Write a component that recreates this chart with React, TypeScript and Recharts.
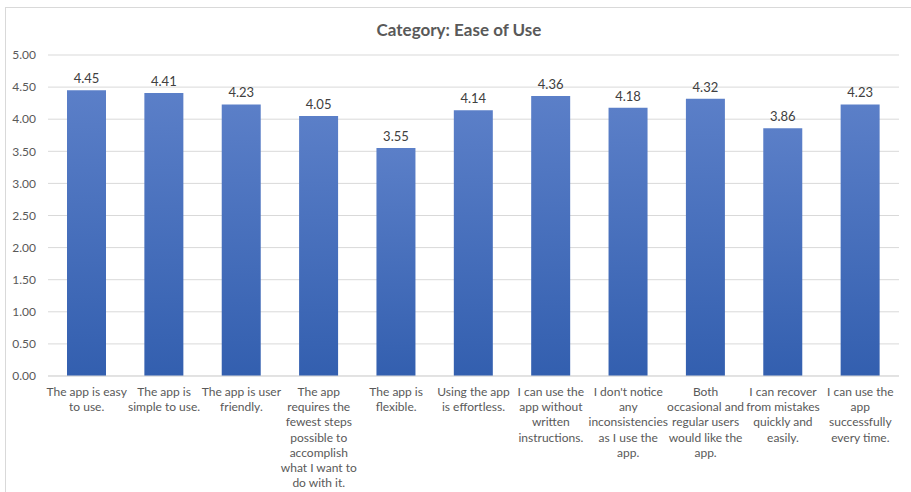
import { BarChart, Bar, XAxis, YAxis, CartesianGrid, LabelList } from 'recharts'

const title = 'Category: Ease of Use'

// each statement, with the line breaks as they show under the axis
const categories = [
    'The app is easy\nto use.',
    'The app is\nsimple to use.',
    'The app is user\nfriendly.',
    'The app\nrequires the\nfewest steps\npossible to\naccomplish\nwhat I want to\ndo with it.',
    'The app is\nflexible.',
    'Using the app\nis effortless.',
    'I can use the\napp without\nwritten\ninstructions.',
    "I don't notice\nany\ninconsistencies\nas I use the\napp.",
    'Both\noccasional and\nregular users\nwould like the\napp.',
    'I can recover\nfrom mistakes\nquickly and\neasily.',
    'I can use the\napp\nsuccessfully\nevery time.'
]

const scores = [4.45, 4.41, 4.23, 4.05, 3.55, 4.14, 4.36, 4.18, 4.32, 3.86, 4.23]

const yTicks = [0, 0.5, 1, 1.5, 2, 2.5, 3, 3.5, 4, 4.5, 5]

const data = categories.map((name, i) => ({ name, score: scores[i] }))

const FONT = 'Lato, "Liberation Sans", sans-serif'

const WrappedTick = (props) => {
    const { x, y, payload } = props
    const lines = String(payload.value).split('\n')
    return (
        <text x={x} y={y + 12} textAnchor="middle" fill="#595959" fontSize={12} fontFamily={FONT}>
            {lines.map((line, i) => (
                <tspan key={i} x={x} dy={i === 0 ? 0 : 15.2}>{line}</tspan>
            ))}
        </text>
    )
}

export default function App() {
    return (
        <div style={{ position: 'absolute', left: 0, top: 0, width: 911, height: 492, background: '#fff', overflow: 'hidden' }}>
            <div
                style={{
                    position: 'absolute', left: 5, top: 7, width: 920, height: 500,
                    border: '1px solid #d9d9d9', boxSizing: 'border-box'
                }}
            />
            <div
                style={{
                    position: 'absolute', left: 0, top: 19, width: 918, textAlign: 'center',
                    fontFamily: FONT, fontWeight: 700, fontSize: 17, color: '#595959'
                }}
            >
                {title}
            </div>
            <BarChart
                width={911}
                height={492}
                data={data}
                margin={{ top: 55, right: 12, bottom: 6, left: 0 }}
                style={{ position: 'absolute', left: 0, top: 0 }}
            >
                <defs>
                    <linearGradient id="barFill" x1="0" y1="0" x2="0" y2="1">
                        <stop offset="0%" stopColor="#5b7fc8" />
                        <stop offset="100%" stopColor="#335faf" />
                    </linearGradient>
                </defs>
                <CartesianGrid vertical={false} stroke="#d9d9d9" />
                <XAxis
                    dataKey="name"
                    interval={0}
                    height={110}
                    tickLine={false}
                    axisLine={{ stroke: '#d9d9d9' }}
                    tick={<WrappedTick />}
                />
                <YAxis
                    width={48}
                    domain={[0, 5]}
                    ticks={yTicks}
                    tickFormatter={(v) => v.toFixed(2)}
                    axisLine={false}
                    tickLine={false}
                    tickSize={0}
                    tickMargin={12}
                    tick={{ fill: '#595959', fontSize: 12, fontFamily: FONT }}
                />
                <Bar dataKey="score" fill="url(#barFill)" barSize={39} isAnimationActive={false}>
                    <LabelList
                        dataKey="score"
                        position="top"
                        offset={7}
                        formatter={(v) => Number(v).toFixed(2)}
                        fill="#404040"
                        fontSize={13}
                        fontFamily={FONT}
                    />
                </Bar>
            </BarChart>
        </div>
    )
}
